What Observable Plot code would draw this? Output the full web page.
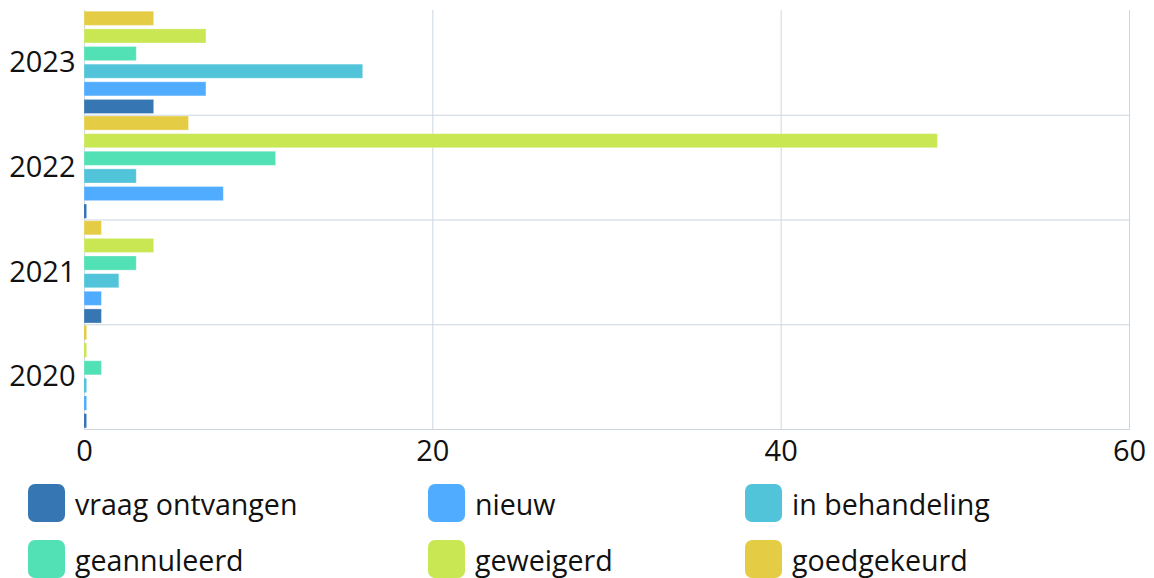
<!DOCTYPE html>
<html>
<head>
<meta charset="utf-8">
<script src="https://cdn.jsdelivr.net/npm/d3@7"></script>
<script src="https://cdn.jsdelivr.net/npm/@observablehq/plot@0.6"></script>
<style>
  html, body { margin: 0; padding: 0; background: #fff; }
  body { width: 1154px; height: 578px; overflow: hidden; font-family: "Open Sans", sans-serif; }
  #legend { display: grid; grid-template-columns: 400px 317px auto; row-gap: 18px; padding-left: 28px; margin-top: 14px; }
  .item { display: flex; align-items: center; height: 38px; }
  .sw { width: 37px; height: 38px; border-radius: 7px; margin-right: 10px; flex: none; }
  .lbl { font-size: 28.6px; color: #111; }
</style>
</head>
<body>
<div id="chart"></div>
<div id="legend"></div>
<script>
const years = [2020, 2021, 2022, 2023];
const statuses = ["vraag ontvangen", "nieuw", "in behandeling", "geannuleerd", "geweigerd", "goedgekeurd"];
const colors = ["#3676b2", "#4facfe", "#52c4d9", "#52e0b5", "#c9e752", "#e5cc45"];
const xTicks = [0, 20, 40, 60];

// values per status, aligned with years
const vraagOntvangen = [0, 1, 0, 4];
const nieuw          = [0, 1, 8, 7];
const inBehandeling  = [0, 2, 3, 16];
const geannuleerd    = [1, 3, 11, 3];
const geweigerd      = [0, 4, 49, 7];
const goedgekeurd    = [0, 1, 6, 4];

const series = [vraagOntvangen, nieuw, inBehandeling, geannuleerd, geweigerd, goedgekeurd];
const data = [];
statuses.forEach((s, i) => years.forEach((y, j) => data.push({year: y, status: s, value: series[i][j]})));

const gridColor = "#ccd6e0";

const chart = Plot.plot({
  width: 1154,
  height: 470,
  marginLeft: 84,
  marginRight: 25,
  marginTop: 10,
  marginBottom: 41,
  style: {fontFamily: "'Open Sans', sans-serif", fontSize: "29px", color: "#111"},
  fy: {domain: years.slice().reverse(), padding: 0, round: false, label: null, axis: "left", tickSize: 0, tickPadding: 9, tickFormat: d => String(d)},
  y: {domain: statuses.slice().reverse(), paddingInner: 0.2, paddingOuter: 0.07, round: false, axis: null},
  x: {domain: [0, 60], ticks: xTicks, tickSize: 0, tickPadding: 11, label: null},
  color: {domain: statuses, range: colors},
  marks: [
    Plot.ruleX(xTicks, {stroke: gridColor, strokeWidth: 1}),
    Plot.frame({anchor: "bottom", stroke: gridColor, strokeWidth: 1.2}),
    Plot.barX(data.filter(d => d.value > 0), {fy: "year", y: "status", x1: 0, x2: "value", fill: "status", stroke: "#fff", strokeOpacity: 0.3, strokeWidth: 1}),
    Plot.barX(data.filter(d => d.value === 0), {fy: "year", y: "status", x1: 0, x2: "value", fill: "status", insetRight: -2.5})
  ]
});
document.getElementById("chart").appendChild(chart);

const legend = document.getElementById("legend");
statuses.forEach((s, i) => {
  const item = document.createElement("div");
  item.className = "item";
  item.innerHTML = `<div class="sw" style="background:${colors[i]}"></div><span class="lbl">${s}</span>`;
  legend.appendChild(item);
});
</script>
</body>
</html>
